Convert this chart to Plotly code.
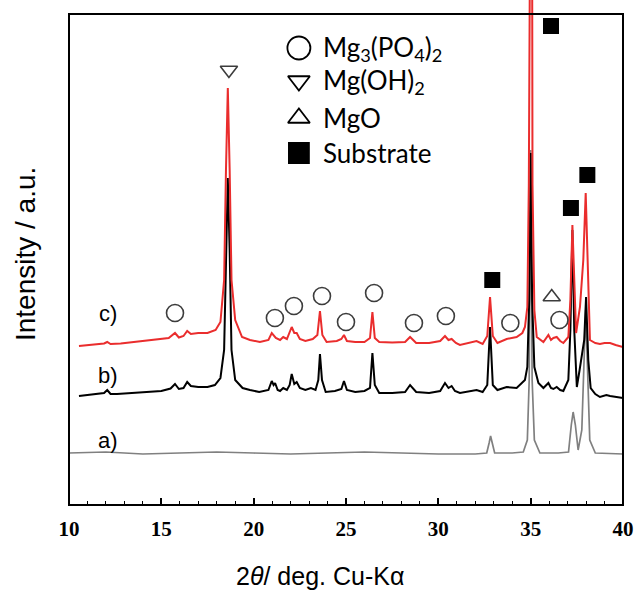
import plotly.graph_objects as go

# ---- data (2theta in degrees, intensity in arbitrary units, stacked offsets included) ----
two_theta_a = [10.0, 12, 14, 16, 18, 20, 22, 24, 26, 28, 30, 32, 32.62, 32.75, 32.83, 32.92, 33.05, 34.0, 34.6,
               34.82, 34.92, 35.0, 35.08, 35.2, 35.5, 36.5, 37.05, 37.2, 37.3, 37.42, 37.57, 37.77, 37.98, 38.2,
               38.5, 40.0]
intensity_a = [52, 53, 51, 52, 53, 52, 51, 52, 53, 52, 51, 51, 52, 62, 69, 62, 52, 52, 53,
               65, 125, 355, 125, 65, 52, 52, 53, 80, 93, 80, 55, 75, 195, 65,
               52, 51]

two_theta_b = [10.54, 11.0, 11.5, 11.9, 12.07, 12.25, 12.6, 13.0, 13.5, 14.0, 14.5, 15.0, 15.5, 15.74,
               15.95, 16.2, 16.4, 16.6, 17.0, 17.5, 17.9, 18.2, 18.4, 18.5, 18.6, 18.7, 18.8, 19.0,
               19.4, 19.8, 20.3, 20.8, 20.98, 21.08, 21.16, 21.3, 21.43, 21.6, 21.8, 21.95, 22.06,
               22.2, 22.33, 22.5, 22.8, 23.1, 23.35, 23.5, 23.59, 23.7, 23.9, 24.4, 24.75, 24.89,
               25.05, 25.5, 26.0, 26.3, 26.43, 26.56, 26.8, 27.5, 28.2, 28.47, 28.8, 29.5, 30.1,
               30.36, 30.55, 30.72, 30.9, 31.17, 31.7, 32.07, 32.4, 32.65, 32.8, 32.95, 33.2, 33.7,
               34.24, 34.69, 34.82, 34.92, 35.0, 35.08, 35.2, 35.42, 35.69, 35.96, 36.1, 36.23,
               36.41, 36.6, 36.77, 37.04, 37.15, 37.26, 37.36, 37.5, 37.65, 37.77, 37.9, 38.0,
               38.12, 38.25, 38.5, 38.75, 39.1, 39.3, 39.6, 40.0]
intensity_b = [109, 110, 110.5, 112, 115, 111, 111, 111.5, 112, 112, 113, 114, 116.5, 121,
               116, 117, 123, 119, 118, 118, 120, 127, 155, 255, 327, 255, 155, 125,
               117, 115, 113, 115, 124, 120, 122, 115, 114, 117, 115, 120, 131,
               121, 123, 117, 115, 117, 115, 125, 151, 125, 113, 114, 116, 124,
               115, 113, 114, 117, 152, 120, 112, 112, 113, 120, 113, 112, 114,
               122, 117, 119, 114, 112, 114, 115, 113, 120, 178, 120, 115, 118,
               117, 125, 138, 205, 352, 205, 138, 122, 117, 122, 117, 116,
               118, 115, 114, 125, 175, 275, 175, 118, 135, 148, 165, 208,
               145, 117, 111, 108, 110, 109, 108, 107]

two_theta_c = [10.54, 11.0, 11.5, 11.9, 12.07, 12.25, 12.8, 13.5, 14.0, 14.5, 15.0, 15.4, 15.74,
               15.95, 16.2, 16.4, 16.6, 17.0, 17.5, 17.94, 18.2, 18.4, 18.5, 18.6, 18.7, 18.8, 19.0,
               19.37, 19.8, 20.34, 20.8, 20.98, 21.2, 21.43, 21.6, 21.8, 22.06, 22.2, 22.33, 22.5,
               22.8, 23.2, 23.45, 23.59, 23.72, 23.95, 24.5, 24.75, 24.89, 25.05, 25.5, 26.0, 26.3,
               26.43, 26.56, 26.8, 27.5, 28.2, 28.47, 28.8, 29.5, 30.1, 30.36, 30.55, 30.72, 30.95,
               31.17, 31.7, 32.07, 32.4, 32.65, 32.8, 32.95, 33.2, 33.7, 34.24, 34.55, 34.69, 34.82,
               34.9, 34.95, 35.05, 35.1, 35.2, 35.33, 35.69, 35.96, 36.1, 36.23, 36.41, 36.6, 36.77,
               37.04, 37.15, 37.26, 37.36, 37.46, 37.67, 37.85, 37.98, 38.1, 38.21, 38.5, 38.75,
               39.0, 39.3, 39.6, 40.0]
intensity_c = [159, 160, 161, 161.5, 163, 161, 161.5, 163, 164, 165, 166, 167, 172,
               167.5, 169, 174, 171, 172, 172, 175, 183, 225, 335, 417, 335, 225, 185,
               168, 165, 163, 165, 172, 167, 165, 168, 166, 178, 172, 172, 166,
               164, 166, 170, 194, 170, 163, 164, 166, 170, 164, 163, 163, 167,
               193, 167, 163, 162.5, 163, 168, 162, 162, 164, 169, 165, 166, 162,
               160, 162, 164, 161, 169, 208, 169, 162, 166, 168, 172, 178, 198,
               320, 900, 900, 320, 195, 168, 163, 170, 165, 167, 168, 164, 162,
               168, 205, 280, 215, 172, 198, 245, 312, 225, 165, 162, 161,
               162, 162, 160, 158]

# phase markers
circle_x = [15.74, 21.15, 22.18, 23.70, 25.0, 26.52, 28.68, 30.41, 33.90, 36.56]
circle_y = [192, 187, 199, 209, 183, 212, 182, 189, 182, 185]
tri_down_x = [18.66]
tri_down_y = [435]
tri_up_x = [36.14]
tri_up_y = [208]
square_x = [32.92, 36.10, 37.18, 38.07]
square_y = [225, 479, 297, 330]

legend_labels = ["Mg<sub>3</sub>(PO<sub>4</sub>)<sub>2</sub>", "Mg(OH)<sub>2</sub>", "MgO", "Substrate"]
legend_symbols = ["circle-open", "triangle-down-open", "triangle-up-open", "square"]
legend_y = [457, 424, 387, 352]

curve_labels = ["a)", "b)", "c)"]
curve_label_y = [65, 130, 192]

tick_vals = [10, 15, 20, 25, 30, 35, 40]
tick_text = ["10", "15", "20", "25", "30", "35", "40"]

RED = "rgb(234,45,45)"
GRAY = "rgb(128,128,128)"

fig = go.Figure()
fig.add_trace(go.Scatter(x=two_theta_a, y=intensity_a, mode="lines",
                         line=dict(color=GRAY, width=1.7), showlegend=False))
fig.add_trace(go.Scatter(x=two_theta_b, y=intensity_b, mode="lines",
                         line=dict(color="black", width=2), showlegend=False))
fig.add_trace(go.Scatter(x=two_theta_c, y=intensity_c, mode="lines",
                         line=dict(color=RED, width=2), showlegend=False))

mk_col = "rgb(60,60,60)"
fig.add_trace(go.Scatter(x=circle_x, y=circle_y, mode="markers", showlegend=False,
                         marker=dict(symbol="circle-open", size=17, color=mk_col,
                                     line=dict(width=1.6, color=mk_col))))
fig.add_trace(go.Scatter(x=tri_down_x, y=tri_down_y, mode="markers", showlegend=False,
                         marker=dict(symbol="triangle-down-open", size=15, color=mk_col,
                                     line=dict(width=1.6, color=mk_col))))
fig.add_trace(go.Scatter(x=tri_up_x, y=tri_up_y, mode="markers", showlegend=False,
                         marker=dict(symbol="triangle-up-open", size=15, color=mk_col,
                                     line=dict(width=1.6, color=mk_col))))
fig.add_trace(go.Scatter(x=square_x, y=square_y, mode="markers", showlegend=False,
                         marker=dict(symbol="square", size=16, color="black")))

# legend drawn inside plot
legend_marker_x = 22.45
legend_text_x = 23.65
for lab, sym, ly in zip(legend_labels, legend_symbols, legend_y):
    size = 23 if sym == "circle-open" else (19 if "triangle" in sym else 20)
    fig.add_trace(go.Scatter(x=[legend_marker_x], y=[ly], mode="markers", showlegend=False,
                             marker=dict(symbol=sym, size=size, color="black",
                                         line=dict(width=1.8, color="black"))))
    fig.add_annotation(x=legend_text_x, y=ly, xref="x", yref="y", text=lab, showarrow=False,
                       xanchor="left", yanchor="middle",
                       font=dict(family="Lato", size=26, color="black"))

for lab, ly in zip(curve_labels, curve_label_y):
    fig.add_annotation(x=12.12, y=ly, xref="x", yref="y", text=lab, showarrow=False,
                       xanchor="center", yanchor="middle",
                       font=dict(family="Liberation Sans", size=22, color="black"))

# axis titles (paper coordinates)
fig.add_annotation(x=0.453, y=-0.1406, xref="paper", yref="paper", text="2<i>θ</i>/ deg. Cu-Kα",
                   showarrow=False, xanchor="center", yanchor="middle",
                   font=dict(family="Liberation Sans", size=25, color="black"))
fig.add_annotation(x=-0.0794, y=0.497, xref="paper", yref="paper", text="Intensity / a.u.",
                   showarrow=False, textangle=-90, xanchor="center", yanchor="middle",
                   font=dict(family="Liberation Sans", size=28, color="black"))

# frame (paper coordinates so it is not clipped)
fig.add_shape(type="rect", xref="paper", yref="paper", x0=0, x1=1, y0=0, y1=491 / 505,
              line=dict(color="black", width=2), layer="above")

fig.update_layout(
    width=636, height=591,
    margin=dict(l=69, r=13, t=0, b=86),
    plot_bgcolor="white", paper_bgcolor="white",
    showlegend=False,
    xaxis=dict(range=[10, 40], tickvals=tick_vals, ticktext=tick_text,
               ticks="inside", ticklen=7, tickwidth=1.5, tickcolor="black",
               minor=dict(ticks="inside", ticklen=4, tickwidth=1.2, tickcolor="black", dtick=1, showgrid=False),
               showgrid=False, zeroline=False, showline=False,
               tickfont=dict(family="Liberation Serif", size=21, color="black", weight="bold"),
               ticklabelstandoff=9),
    yaxis=dict(range=[0, 505], showticklabels=False, ticks="", showgrid=False,
               zeroline=False, showline=False),
)

fig.write_html("out.html", config={"displayModeBar": False},
               post_script="document.body.style.margin='0px';")
